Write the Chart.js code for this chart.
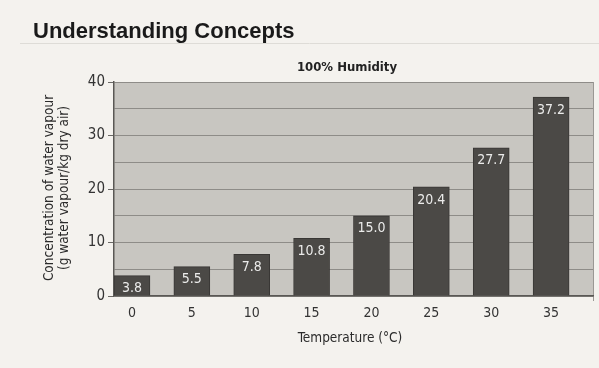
<!DOCTYPE html>
<html>
<head>
<meta charset="utf-8">
<script src="https://cdn.jsdelivr.net/npm/chart.js@4/dist/chart.umd.min.js"></script>
<style>
  html, body { margin: 0; padding: 0; background: #f4f2ee; }
  #wrap { width: 599px; height: 368px; position: relative; }
</style>
</head>
<body>
<div id="wrap"><canvas id="c" width="599" height="368"></canvas></div>
<script>
// Saturation water vapour at 100% humidity
const temperatures = [0, 5, 10, 15, 20, 25, 30, 35];
const vapour = [3.8, 5.5, 7.8, 10.8, 15.0, 20.4, 27.7, 37.2];
const xTicks = [0, 5, 10, 15, 20, 25, 30, 35];
const yTicks = [0, 5, 10, 15, 20, 25, 30, 35, 40];

const pageTitle = 'Understanding Concepts';
const chartTitle = '100% Humidity';
const yTitle = ['Concentration of water vapour', '(g water vapour/kg dry air)'];
const xTitle = 'Temperature (°C)';

const NARROW = '"Liberation Sans Narrow", "DejaVu Sans Condensed", "Liberation Sans", sans-serif';
const WIDE = '"Liberation Sans", Arial, sans-serif';

const decor = {
  id: 'decor',
  beforeDraw(chart) {
    const { ctx, chartArea: a } = chart;
    ctx.save();
    // plot panel
    ctx.fillStyle = '#c8c6c1';
    ctx.fillRect(a.left, a.top, a.right - a.left, a.bottom - a.top);
    ctx.strokeStyle = '#9a9894';
    ctx.lineWidth = 1;
    ctx.beginPath();
    ctx.moveTo(a.right + 0.5, a.top);
    ctx.lineTo(a.right + 0.5, a.bottom + 5);
    ctx.stroke();
    // rule beneath the heading
    ctx.strokeStyle = '#dedcd7';
    ctx.beginPath();
    ctx.moveTo(20, 43.5);
    ctx.lineTo(599, 43.5);
    ctx.stroke();
    // heading
    ctx.fillStyle = '#1a1a1a';
    ctx.font = 'bold 22px ' + WIDE;
    ctx.textBaseline = 'alphabetic';
    ctx.textAlign = 'left';
    ctx.fillText(pageTitle, 33, 38);
    // chart title
    ctx.font = 'bold 13px ' + NARROW;
    ctx.textAlign = 'center';
    ctx.fillStyle = '#222';
    ctx.fillText(chartTitle, 347, 71);
    // axis titles
    ctx.font = '13.5px ' + NARROW;
    ctx.fillStyle = '#2b2b2b';
    ctx.fillText(xTitle, 350, 342);
    ctx.save();
    ctx.translate(0, 188);
    ctx.rotate(-Math.PI / 2);
    ctx.fillText(yTitle[0], 0, 53);
    ctx.fillText(yTitle[1], 0, 68);
    ctx.restore();
    ctx.restore();
  },
  afterDatasetsDraw(chart) {
    const { ctx } = chart;
    const meta = chart.getDatasetMeta(0);
    ctx.save();
    ctx.font = '14px ' + NARROW;
    ctx.fillStyle = '#ebebea';
    ctx.textAlign = 'center';
    ctx.textBaseline = 'middle';
    meta.data.forEach((bar, i) => {
      ctx.fillText(vapour[i].toFixed(1), bar.x, bar.y + 13);
    });
    ctx.restore();
  }
};

new Chart(document.getElementById('c'), {
  type: 'bar',
  data: {
    datasets: [{
      data: temperatures.map((t, i) => ({ x: t, y: vapour[i] })),
      backgroundColor: '#4b4946',
      borderColor: '#393735',
      borderWidth: 1,
      barThickness: 36
    }]
  },
  options: {
    responsive: false,
    animation: false,
    events: [],
    layout: { padding: { top: 82, right: 6, left: 0, bottom: 0 } },
    plugins: { legend: { display: false }, tooltip: { enabled: false }, title: { display: false } },
    scales: {
      x: {
        type: 'linear',
        offset: false,
        min: -1.5,
        max: 38.5,
        afterBuildTicks(scale) { scale.ticks = xTicks.map(v => ({ value: v })); },
        afterFit(scale) { scale.height = 72; },
        grid: { offset: false, drawOnChartArea: false, drawTicks: true, tickLength: 5, color: 'rgba(0,0,0,0)' },
        border: { display: true, color: '#5a5855', width: 1.5 },
        ticks: {
          font: { family: NARROW, size: 14 },
          color: '#333',
          padding: 4,
          maxRotation: 0,
          autoSkip: false
        }
      },
      y: {
        min: 0,
        max: 40,
        afterBuildTicks(scale) { scale.ticks = yTicks.map(v => ({ value: v })); },
        afterFit(scale) { scale.width = 114; },
        grid: {
          color: '#8e8c88',
          lineWidth: 1,
          tickLength: 6,
          tickColor: ctx => (ctx.tick && ctx.tick.value % 10 === 0) ? '#6a6865' : 'rgba(0,0,0,0)'
        },
        border: { display: true, color: '#5a5855', width: 1.5 },
        ticks: {
          font: { family: NARROW, size: 15 },
          color: '#333',
          padding: 3,
          autoSkip: false,
          callback: v => (v % 10 === 0 ? String(v) : '')
        }
      }
    }
  },
  plugins: [decor]
});
</script>
</body>
</html>
